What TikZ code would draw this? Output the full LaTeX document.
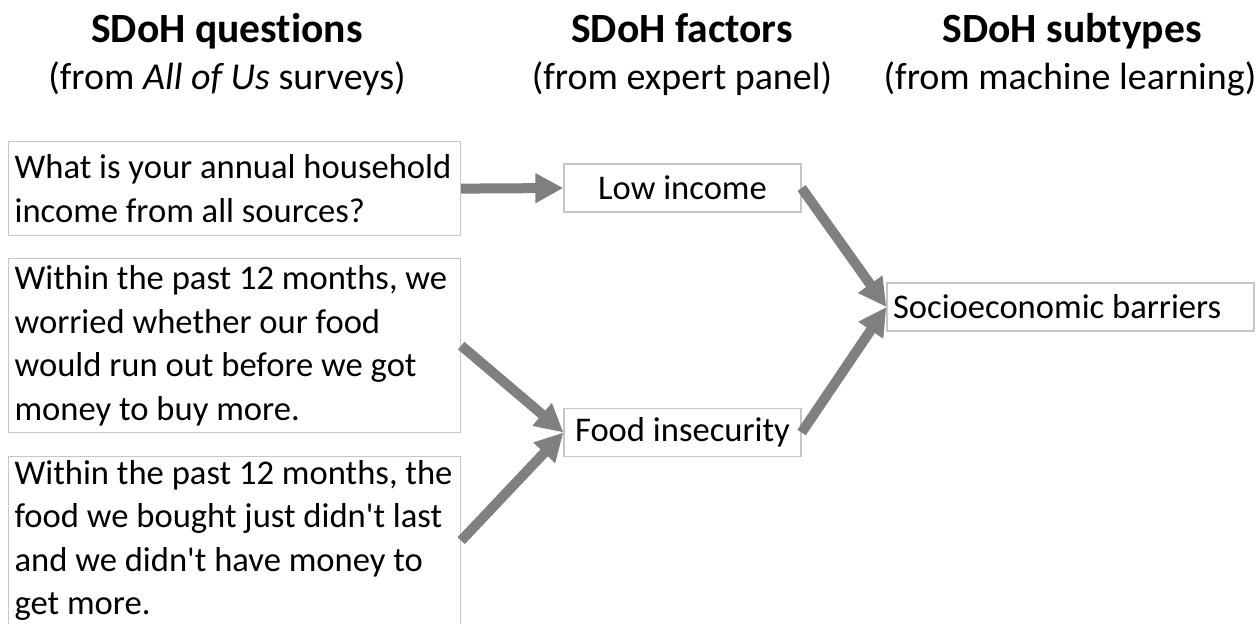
\documentclass[tikz,border=0pt]{standalone}
\usepackage{fontspec}
\setmainfont{Carlito}[Ligatures=NoCommon]
\usepackage{tikz}
\usetikzlibrary{arrows.meta,positioning}

\begin{document}
\begin{tikzpicture}[
    x=0.5pt, y=-0.5pt,
    head/.style={anchor=base, font=\fontsize{20.8}{24}\selectfont\bfseries},
    sub/.style={anchor=base, font=\fontsize{19}{22}\selectfont},
    box/.style={draw=gray!45, line width=0.6pt, inner xsep=3pt, inner ysep=0pt, align=flush left, font=\fontsize{17.3}{21.75}\selectfont},
    question/.style={box, anchor=north west, text width=220pt},
    factor/.style={box, align=center, minimum width=118.5pt, minimum height=24pt},
    subtype/.style={box, text width=177.5pt, minimum height=24pt},
    arr/.style={-{Triangle[length=14pt, width=14pt]}, line width=5pt, gray}
]
    \useasboundingbox (0,0) rectangle (1258,623);

    % column headings
    \node[head] (qhead) at (227,42) {SDoH questions};
    \node[head] (fhead) at (682,42) {SDoH factors};
    \node[head] (shead) at (1072,42) {SDoH subtypes};
    \node[sub] (qsub) at (227,89) {(from \textit{All of Us} surveys)};
    \node[sub] (fsub) at (682,89) {(from expert panel)};
    \node[sub] (ssub) at (1070,89) {(from machine learning)};

    % survey questions
    \node[question, minimum height=47pt] (q1) at (8,141)
        {What is your annual household\\income from all sources?};
    \node[question, minimum height=87pt] (q2) at (8,258)
        {Within the past 12 months, we\\worried whether our food\\would run out before we got\\money to buy more.};
    \node[question, minimum height=84pt] (q3) at (8,456)
        {Within the past 12 months, the\\food we bought just didn\textquotesingle t last\\and we didn\textquotesingle t have money to\\get more.};

    % factors and subtype
    \node[factor] (low) at (682.5,188) {Low income};
    \node[factor] (food) at (682.5,432.5) {Food insecurity};
    \node[subtype] (socio) at (1070.5,307) {Socioeconomic barriers};

    \draw[arr] (q1.east) -- (low.west);
    \draw[arr] (q2.east) -- (food.west);
    \draw[arr] (q3.east) -- (food.west);
    \draw[arr] (low.east) -- (socio.west);
    \draw[arr] (food.east) -- (socio.west);
\end{tikzpicture}
\end{document}
